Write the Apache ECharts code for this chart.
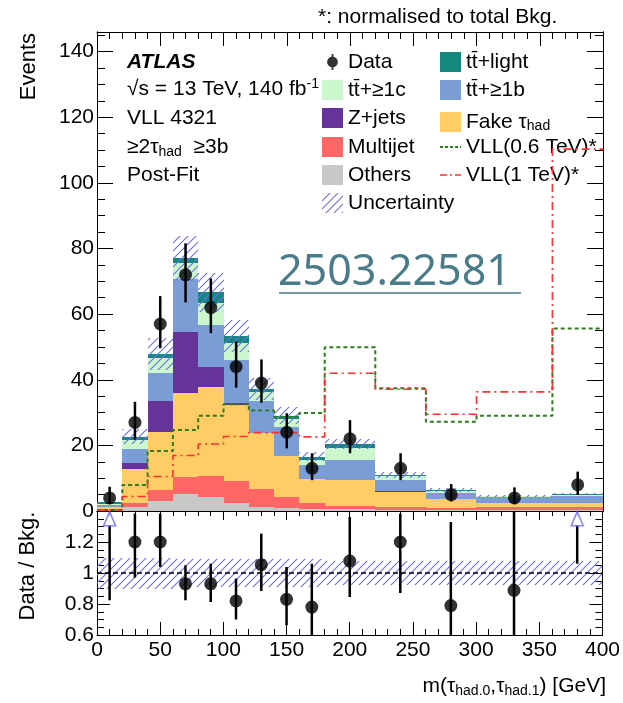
<!DOCTYPE html>
<html><head><meta charset="utf-8">
<script src="https://cdn.jsdelivr.net/npm/echarts@6/dist/echarts.min.js"></script>
<style>html,body{margin:0;padding:0;background:#fff;}#c{width:623px;height:703px;}</style>
</head><body><div id="c"></div>
<script>
// ---------------- data ----------------
const binEdges = [0,20,40,60,80,100,120,140,160,180,220,260,300,360,400];
const others   = [0.1,1.1,3.0,5.2,4.3,2.4,1.3,1.0,0.6,0.6,0.4,0.3,0.3,0.3];
const multijet = [0.2,1.4,3.4,5.3,6.4,6.8,5.5,3.4,1.7,1.0,0.7,0.5,0.8,0.8];
const fakeTau  = [1.0,10.3,17.8,25.6,27.2,23.1,16.9,12.4,7.4,7.9,4.8,2.8,1.4,1.4];
const zJets    = [0.0,1.7,9.3,18.6,5.9,0.7,0.2,0.1,0.1,0.1,0.1,0.0,0.0,0.0];
const ttB      = [0.5,4.5,8.5,15.9,12.8,13.0,9.7,8.8,4.2,5.9,3.5,1.8,1.7,2.1];
const ttC      = [0.4,2.5,4.5,4.9,6.9,5.1,2.7,2.3,1.5,3.6,1.2,0.8,0.3,0.4];
const ttLight  = [0.4,1.1,1.3,1.5,3.1,2.3,1.0,1.0,1.1,1.3,0.3,0.2,0.1,0.2];
const uncRel   = [0.10,0.10,0.10,0.09,0.09,0.09,0.09,0.09,0.09,0.08,0.08,0.08,0.075,0.075];

const vll06 = [0.3,7.9,18.3,24.7,29.0,32.5,30.6,28.7,29.9,49.9,37.4,27.2,29.0,55.6];
const vll1  = [0.3,4.4,10.5,16.9,20.4,22.7,23.9,23.9,22.6,42.0,37.1,29.5,36.3,110.3];

const dataX  = [10,30,50,70,90,110,130,150,170,200,240,280,330,380];
const dataY  = [4,27,57,72,62,44,39,24,13,22,13,5,4,8];
const dataLo = [2.1,21.8,49.6,63.6,54.2,37.6,33.0,19.1,9.4,17.6,9.4,2.9,2.1,4.9];
const dataHi = [7.4,33.3,65.5,81.6,70.9,51.6,46.2,29.8,17.6,27.7,17.6,8.2,7.2,12.0];

const ratioY  = [null,1.2,1.2,0.93,0.93,0.82,1.054,0.83,0.78,1.077,1.2,0.79,0.888,null];
const ratioLo = [0.824,0.97,1.039,0.824,0.813,0.70,0.884,0.663,0.5,0.845,0.871,0.4,0.3,1.06];
const ratioHi = [null,1.383,1.383,1.05,1.06,0.964,1.254,1.039,1.06,1.361,1.383,1.329,1.5,null];

const xTicks = {min:0, max:400, interval:50};
const mainY = {min:0, max:146, interval:20, minorInterval:5};
const ratioRange = {min:0.6, max:1.4, interval:0.2};

// ---------------- helpers ----------------
const FONT = '"Liberation Sans", Arial, Helvetica, sans-serif';
const nb = binEdges.length - 1;
function hatchPattern(color){
  const c = document.createElement('canvas'); c.width = 8; c.height = 8;
  const g = c.getContext('2d'); g.strokeStyle = color; g.lineWidth = 1.1;
  g.beginPath(); g.moveTo(-1,9); g.lineTo(9,-1); g.moveTo(-1,1); g.lineTo(1,-1); g.moveTo(7,9); g.lineTo(9,7); g.stroke();
  return c;
}
const hatch = {image: hatchPattern('#6f6ff0'), repeat: 'repeat'};
function rectRender(fill){
  return (params, api) => {
    const a = api.coord([api.value(0), api.value(3)]);
    const b = api.coord([api.value(1), api.value(2)]);
    const x0 = Math.round(a[0]), x1 = Math.round(b[0]), y0 = Math.round(a[1]), y1 = Math.round(b[1]);
    return {type:'rect', shape:{x:x0, y:y0, width:x1-x0, height:y1-y0}, style:{fill: fill}};
  };
}
function errRender(yMin, yMax, color, width){
  return (params, api) => {
    const x = api.value(0);
    const lo = Math.max(api.value(1), yMin), hi = Math.min(api.value(2), yMax);
    const p1 = api.coord([x, lo]), p2 = api.coord([x, hi]);
    return {type:'line', shape:{x1:p1[0], y1:p1[1], x2:p2[0], y2:p2[1]}, style:{stroke:color, lineWidth:width}};
  };
}
function stepData(vals){
  const d = vals.map((v,i) => [binEdges[i], v]);
  d.push([binEdges[nb], vals[nb-1]]);
  return d;
}

const processes = [
  {name:'Others', color:'#c8c8c8', vals:others},
  {name:'Multijet', color:'#ff6666', vals:multijet},
  {name:'Fake τhad', color:'#ffcc66', vals:fakeTau},
  {name:'Z+jets', color:'#663399', vals:zJets},
  {name:'tt\u0304+≥1b', color:'#7b9dd6', vals:ttB},
  {name:'tt\u0304+≥1c', color:'#ccf7cc', vals:ttC},
  {name:'tt\u0304+light', color:'#14877f', vals:ttLight}
];
const cum = new Array(nb).fill(0);
const series = [];
processes.forEach(p => {
  const items = p.vals.map((v,i) => { const b = cum[i]; cum[i] += v; return [binEdges[i], binEdges[i+1], b, cum[i]]; });
  series.push({type:'custom', name:p.name, xAxisIndex:0, yAxisIndex:0, z:2, silent:true,
    itemStyle:{color:p.color}, renderItem: rectRender(p.color), data: items, encode:{x:[0,1], y:[2,3]}});
});
series.push({type:'custom', name:'Uncertainty', xAxisIndex:0, yAxisIndex:0, z:3, silent:true,
  renderItem: rectRender(hatch), encode:{x:[0,1], y:[2,3]},
  data: cum.map((t,i) => [binEdges[i], binEdges[i+1], t*(1-uncRel[i]), t*(1+uncRel[i])])});
const green = '#2e7d1f', red = '#ff3030';
series.push({type:'line', name:'VLL(0.6 TeV)*', xAxisIndex:0, yAxisIndex:0, z:4, step:'end', symbol:'none', silent:true,
  lineStyle:{color:green, width:2, type:[4,3]}, itemStyle:{color:green}, data: stepData(vll06)});
series.push({type:'line', name:'VLL(1 TeV)*', xAxisIndex:0, yAxisIndex:0, z:4, step:'end', symbol:'none', silent:true,
  lineStyle:{color:red, width:1.6, type:[8,4,2,4]}, itemStyle:{color:red}, data: stepData(vll1)});
series.push({type:'custom', name:'DataErr', xAxisIndex:0, yAxisIndex:0, z:5, silent:true,
  renderItem: errRender(mainY.min, mainY.max, '#000', 2.5), encode:{x:0, y:[1,2]},
  data: dataX.map((x,i) => [x, dataLo[i], dataHi[i]])});
series.push({type:'scatter', name:'Data', xAxisIndex:0, yAxisIndex:0, z:6, silent:true, symbolSize:13,
  itemStyle:{color:'#000'}, data: dataX.map((x,i) => [x, dataY[i]])});

// ratio panel
series.push({type:'custom', name:'RatioBand', xAxisIndex:2, yAxisIndex:4, z:2, silent:true,
  renderItem: rectRender(hatch), encode:{x:[0,1], y:[2,3]},
  data: uncRel.map((e,i) => [binEdges[i], binEdges[i+1], 1-e, 1+e]),
  markLine:{silent:true, symbol:'none', label:{show:false}, lineStyle:{color:'#000', type:[5,3], width:1.5}, data:[{yAxis:1}]}});
const arrowLevel = ratioRange.max - 0.05;
series.push({type:'custom', name:'RatioErr', xAxisIndex:2, yAxisIndex:4, z:5, silent:true,
  renderItem: errRender(ratioRange.min, ratioRange.max, '#000', 2.5), encode:{x:0, y:[1,2]},
  data: dataX.map((x,i) => [x, ratioLo[i], ratioHi[i] === null ? arrowLevel - 0.04 : ratioHi[i]])});
series.push({type:'scatter', name:'Ratio', xAxisIndex:2, yAxisIndex:4, z:6, silent:true, symbolSize:13,
  itemStyle:{color:'#000'}, data: dataX.map((x,i) => [x, ratioY[i]]).filter(d => d[1] !== null)});
series.push({type:'scatter', name:'RatioArrow', xAxisIndex:2, yAxisIndex:4, z:7, silent:true, symbol:'triangle', symbolSize:[12,14],
  itemStyle:{color:'#fff', borderColor:'#6a6aff', borderWidth:1.6},
  data: dataX.map((x,i) => [x, ratioY[i]]).filter(d => d[1] === null).map(d => [d[0], arrowLevel])});

// ---------------- axes ----------------
const tickStyle = {color:'#000', width:1};
function xAx(grid, pos, labels, len, mlen){
  return {type:'value', gridIndex:grid, position:pos, min:xTicks.min, max:xTicks.max, interval:xTicks.interval,
    axisLine:{show:true, onZero:false, lineStyle:tickStyle},
    axisTick:{show:true, inside:true, length:len, lineStyle:tickStyle},
    minorTick:{show:true, splitNumber:5, length:mlen, lineStyle:tickStyle},
    axisLabel:{show:labels, fontFamily:FONT, fontSize:21, color:'#000', margin:5},
    splitLine:{show:false}};
}
function yAxMain(pos, labels, minor){
  return {type:'value', gridIndex:0, position:pos, min:mainY.min, max:mainY.max,
    interval: minor ? mainY.minorInterval : mainY.interval,
    axisLine:{show:true, onZero:false, lineStyle:tickStyle},
    axisTick:{show:true, inside:true, length: minor ? 8 : 16, lineStyle:tickStyle},
    axisLabel:{show:labels, fontFamily:FONT, fontSize:21, color:'#000', margin:3, showMaxLabel:false},
    splitLine:{show:false}};
}
function yAxRatio(pos, labels){
  return {type:'value', gridIndex:1, position:pos, min:ratioRange.min, max:ratioRange.max, interval:ratioRange.interval,
    axisLine:{show:true, onZero:false, lineStyle:tickStyle},
    axisTick:{show:true, inside:true, length:13, lineStyle:tickStyle},
    minorTick:{show:true, splitNumber:4, length:7, lineStyle:tickStyle},
    axisLabel:{show:labels, fontFamily:FONT, fontSize:21, color:'#000', margin:3, showMaxLabel:false},
    splitLine:{show:false}};
}

// ---------------- legends ----------------
const bnd = 'M0,0L0.01,0L0,0.01Z M21,20L20.99,20L21,19.99Z ';
const dataIcon = 'path://' + bnd + 'M9.6,2H11.4V18H9.6Z M10.5,4.6A5.4,5.4 0 1,1 10.49,4.6Z';
const dashIcon = 'path://' + bnd + 'M0,9H3V11H0Z M5,9H8V11H5Z M10,9H13V11H10Z M15,9H18V11H15Z M20,9H21V11H20Z';
const dashDotIcon = 'path://' + bnd + 'M0,9.2H7V10.8H0Z M10,9.2H12V10.8H10Z M15,9.2H21V10.8H15Z';
const legendText = {fontFamily:FONT, fontSize:21, color:'#000', lineHeight:22,
  rich:{sub:{fontFamily:FONT, fontSize:14, lineHeight:14, padding:[12,0,0,0], verticalAlign:'bottom'}}};
function leg(name, left, rowY, icon, style){
  const d = {name:name, icon:icon};
  if (style) d.itemStyle = style;
  return {left:left, top:rowY-11, padding:0, itemWidth:21, itemHeight:20, selectedMode:false,
    textStyle:legendText, data:[d],
    formatter: n => n === 'Fake τhad' ? 'Fake τ{sub|had}' : n};
}
const colorOf = {}; processes.forEach(p => colorOf[p.name] = p.color);
const legends = [
  leg('Data', 322, 62, dataIcon, {color:'#000'}),
  leg('tt\u0304+≥1c', 322, 90, 'rect', {color:colorOf['tt\u0304+≥1c']}),
  leg('Z+jets', 322, 118, 'rect', {color:colorOf['Z+jets']}),
  leg('Multijet', 322, 147, 'rect', {color:colorOf['Multijet']}),
  leg('Others', 322, 175, 'rect', {color:colorOf['Others']}),
  leg('Uncertainty', 322, 203, 'rect', {color:hatch}),
  leg('tt\u0304+light', 440, 62, 'rect', {color:colorOf['tt\u0304+light']}),
  leg('tt\u0304+≥1b', 440, 90, 'rect', {color:colorOf['tt\u0304+≥1b']}),
  leg('Fake τhad', 440, 118, 'rect', {color:colorOf['Fake τhad']}),
  leg('VLL(0.6 TeV)*', 440, 147, dashIcon, {color:green}),
  leg('VLL(1 TeV)*', 440, 175, dashDotIcon, {color:red})
];

// ---------------- texts ----------------
const T = {fontFamily:FONT, fontSize:21, fill:'#000'};
const richSub = {sub:{fontFamily:FONT, fontSize:14, lineHeight:14, padding:[12,0,0,0], verticalAlign:'bottom'},
                 sup:{fontFamily:FONT, fontSize:14, lineHeight:14, verticalAlign:'top'},
                 n:{fontFamily:FONT, fontSize:21, lineHeight:24}};
function txt(x, y, text, extra){
  return {type:'text', x:x, y:y, z:20, style:Object.assign({text:text, verticalAlign:'middle', align:'left', rich:richSub}, T, extra||{})};
}
const graphics = [
  txt(318, 17, '*: normalised to total Bkg.'),
  txt(127, 62, 'ATLAS', {fontWeight:'bold', fontStyle:'italic'}),
  txt(127, 89, '{n|√s = 13 TeV, 140 fb}{sup|-1}'),
  txt(127, 118, 'VLL 4321'),
  txt(127, 147, '{n|≥2τ}{sub|had}{n|  ≥3b}'),
  txt(127, 175, 'Post-Fit'),
  {type:'text', x:29, y:33, rotation:Math.PI/2, z:20, style:Object.assign({}, T, {text:'Events', fontSize:22, align:'right', verticalAlign:'middle'})},
  {type:'text', x:28, y:566, rotation:Math.PI/2, z:20, style:Object.assign({}, T, {text:'Data / Bkg.', fontSize:22, align:'center', verticalAlign:'middle'})},
  {type:'text', x:606, y:686, z:20, style:Object.assign({}, T, {text:'{n|m(τ}{sub|had.0}{n|,τ}{sub|had.1}{n|) [GeV]}', align:'right', verticalAlign:'middle', rich:richSub})},
  {type:'text', x:278, y:273, z:20, style:{text:'2503.22581', fontFamily:'"Noto Sans", "Open Sans", sans-serif', fontSize:43, fill:'#4a7b89', align:'left', verticalAlign:'middle'}},
  {type:'line', z:20, shape:{x1:279, y1:293, x2:521, y2:293}, style:{stroke:'#4a7b89', lineWidth:1.5}}
];

const option = {
  animation:false,
  backgroundColor:'#fff',
  grid:[
    {left:97, top:32, width:506, height:479, show:false},
    {left:97, top:511, width:506, height:124, show:false}
  ],
  xAxis:[ xAx(0,'bottom',false,14,7), xAx(0,'top',false,14,7), xAx(1,'bottom',true,13,6), xAx(1,'top',false,9,5) ],
  yAxis:[ yAxMain('left',true,false), yAxMain('left',false,true), yAxMain('right',false,false), yAxMain('right',false,true),
          yAxRatio('left',true), yAxRatio('right',false) ],
  legend: legends,
  graphic: graphics,
  series: series
};
const chart = echarts.init(document.getElementById('c'), null, {renderer:'canvas'});
chart.setOption(option);
</script></body></html>
